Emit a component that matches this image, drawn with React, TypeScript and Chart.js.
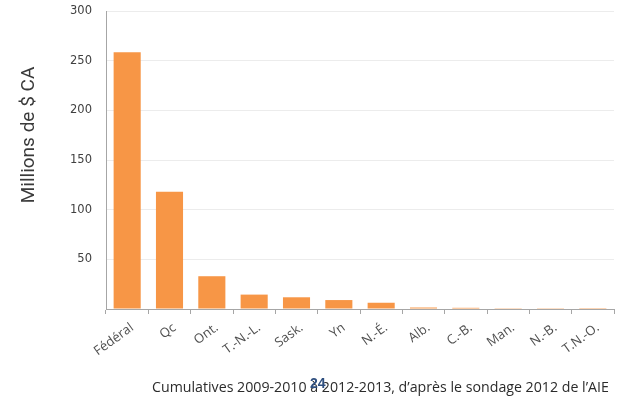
import React, { useEffect, useRef } from "react";
import { Chart, registerables } from "chart.js";

Chart.register(...registerables);

const categories = ["Fédéral", "Qc", "Ont.", "T.-N.-L.", "Sask.", "Yn", "N.-É.", "Alb.", "C.-B.", "Man.", "N.-B.", "T.N.-O."];
const values = [258.5, 118, 33, 14.5, 11.8, 9, 6.3, 1.5, 1.2, 0.2, 0.2, 0.1];
const yTitle = "Millions de $ CA";
const footnote = "Cumulatives 2009-2010 à 2012-2013, d’après le sondage 2012 de l’AIE";
const pageNumber = "24";

const W = 625;
const H = 398;

const textPlugin = {
  id: "extraText",
  afterDraw(chart: any) {
    const ctx = chart.ctx as CanvasRenderingContext2D;
    ctx.save();
    // rotated axis title
    ctx.translate(29, 135);
    ctx.rotate(-Math.PI / 2);
    ctx.fillStyle = "#3a3a3a";
    ctx.font = "19px Roboto, 'Open Sans', sans-serif";
    ctx.textAlign = "center";
    ctx.textBaseline = "middle";
    ctx.fillText(yTitle, 0, 0);
    ctx.restore();

    ctx.save();
    ctx.fillStyle = "#2b2b2b";
    ctx.font = "14.2px 'Open Sans', sans-serif";
    ctx.textAlign = "left";
    ctx.textBaseline = "alphabetic";
    ctx.fillText(footnote, 152, 392);
    ctx.fillStyle = "#2f4f7f";
    ctx.font = "bold 14px 'Liberation Sans', sans-serif";
    ctx.fillText(pageNumber, 310, 388);
    ctx.restore();
  },
};

export default function App() {
  const ref = useRef<HTMLCanvasElement | null>(null);

  useEffect(() => {
    document.body.style.margin = "0";
    const canvas = ref.current;
    if (!canvas) return;
    const chart = new Chart(canvas, {
      type: "bar",
      data: {
        labels: categories,
        datasets: [
          {
            data: values,
            backgroundColor: "#f79646",
            borderWidth: 0,
            categoryPercentage: 1,
            barPercentage: 0.64,
          },
        ],
      },
      options: {
        responsive: false,
        animation: false,
        devicePixelRatio: 1,
        layout: { padding: { top: 11, right: 11, left: 0, bottom: 0 } },
        plugins: { legend: { display: false }, tooltip: { enabled: false } },
        scales: {
          x: {
            afterFit(scale: any) {
              scale.height = H - 309;
              scale.paddingLeft = 0;
              scale.paddingRight = 0;
              scale.paddingTop = 0;
              scale.paddingBottom = 0;
            },
            grid: {
              display: true,
              drawOnChartArea: false,
              drawTicks: true,
              tickLength: 5,
              color: "#a6a6a6",
              offset: true,
            },
            border: { display: true, color: "#a6a6a6", width: 1 },
            ticks: {
              minRotation: 36,
              maxRotation: 36,
              autoSkip: false,
              color: "#505050",
              font: { family: "'Open Sans', sans-serif", size: 13 },
              padding: 6,
              labelOffset: 5,
            },
          },
          y: {
            min: 0,
            max: 300,
            afterFit(scale: any) {
              scale.width = 106;
              scale.paddingTop = 0;
              scale.paddingBottom = 0;
            },
            ticks: {
              stepSize: 50,
              color: "#404040",
              font: { family: "'DejaVu Sans', sans-serif", size: 11.5 },
              padding: 14,
              callback: (v: any) => (v === 0 ? "" : String(v)),
            },
            grid: {
              color: (c: any) => (c.tick && c.tick.value === 0 ? "rgba(0,0,0,0)" : "#ececec"),
              drawTicks: false,
              lineWidth: 1,
            },
            border: { display: true, color: "#a6a6a6", width: 1 },
          },
        },
      },
      plugins: [textPlugin],
    });
    return () => chart.destroy();
  }, []);

  return (
    <div style={{ position: "relative", width: W, height: H, background: "#fff" }}>
      <canvas ref={ref} width={W} height={H} style={{ width: W, height: H, display: "block" }} />
    </div>
  );
}
